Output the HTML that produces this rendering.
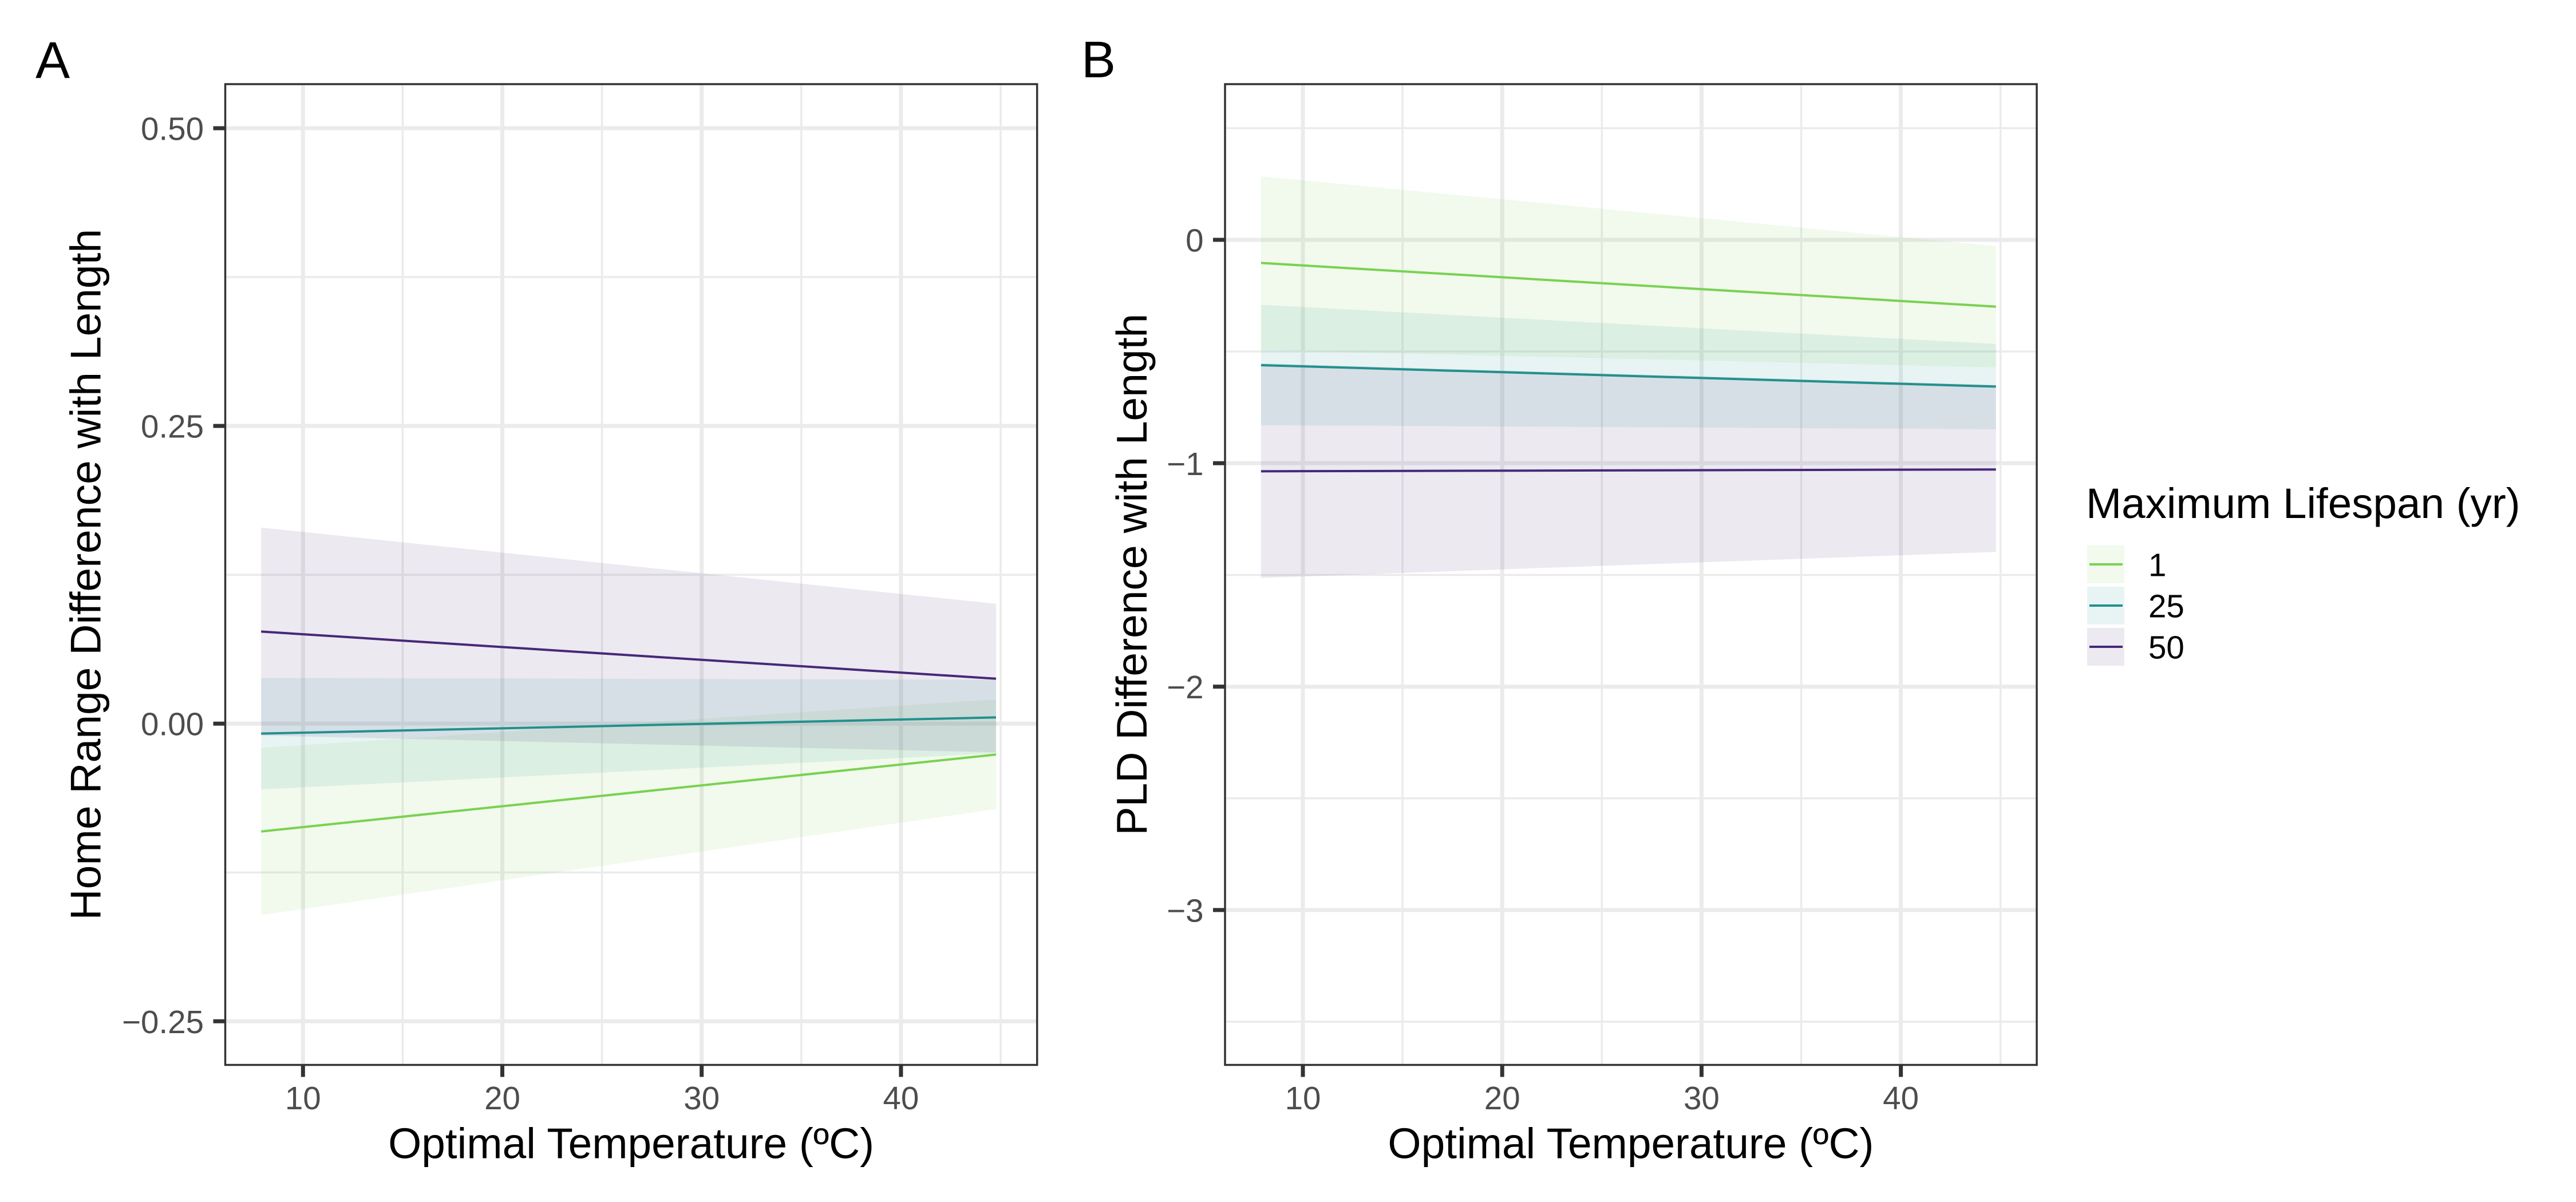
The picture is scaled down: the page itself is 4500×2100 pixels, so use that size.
<!DOCTYPE html>
<html lang="en">
<head>
<meta charset="utf-8">
<title>Home range and PLD difference with length</title>
<style>
html,body{margin:0;padding:0;background:#fff;}
svg{display:block;font-family:"Liberation Sans",Arial,sans-serif;}
</style>
</head>
<body>
<svg id="figure" xmlns="http://www.w3.org/2000/svg" width="4500" height="2100" viewBox="0 0 4500 2100">
  <rect x="0" y="0" width="4500" height="2100" fill="#ffffff"/>
  <text x="62" y="136" font-size="90" fill="#000">A</text>
  <text x="1889" y="135" font-size="90" fill="#000">B</text>
  <g id="panel-a"></g>
  <g id="panel-b"></g>
  <text x="1102.6" y="2023.5" font-size="74.8" text-anchor="middle" fill="#000">Optimal Temperature (ºC)</text>
  <text x="2848.9" y="2023.5" font-size="74.8" text-anchor="middle" fill="#000">Optimal Temperature (ºC)</text>
  <text transform="translate(175.4 1003.7) rotate(-90)" font-size="75" text-anchor="middle" fill="#000">Home Range Difference with Length</text>
  <text transform="translate(2003 1003.7) rotate(-90)" font-size="75" text-anchor="middle" fill="#000">PLD Difference with Length</text>
  <g id="legend">
    <text x="3644" y="905" font-size="74.6" fill="#000">Maximum Lifespan (yr)</text>
  </g>
</svg>
<script>
// Shared x values: the start and end of every fitted trend
const temperatureRange = [7.9, 44.77];
const xMajorTicks = [10, 20, 30, 40];
const xMinorTicks = [15, 25, 35, 45];
const lifespans = ['1', '25', '50'];

// Panel A: Home Range Difference with Length
const homeRangeTicks = [0.5, 0.25, 0, -0.25];
const homeRangeTickLabels = ['0.50', '0.25', '0.00', '\u22120.25'];
const homeRangeMinorTicks = [0.375, 0.125, -0.125];
const homeRangeFit1 = [-0.0906, -0.026];
const homeRangeLow1 = [-0.1608, -0.0717];
const homeRangeHigh1 = [-0.0204, 0.0204];
const homeRangeFit25 = [-0.0084, 0.0052];
const homeRangeLow25 = [-0.0552, -0.0249];
const homeRangeHigh25 = [0.0384, 0.0368];
const homeRangeFit50 = [0.0773, 0.0377];
const homeRangeLow50 = [-0.010, -0.0241];
const homeRangeHigh50 = [0.1646, 0.1006];

// Panel B: PLD Difference with Length
const pldTicks = [0, -1, -2, -3];
const pldTickLabels = ['0', '\u22121', '\u22122', '\u22123'];
const pldMinorTicks = [0.5, -0.5, -1.5, -2.5, -3.5];
const pldFit1 = [-0.1035, -0.299];
const pldLow1 = [-0.494, -0.571];
const pldHigh1 = [0.284, -0.028];
const pldFit25 = [-0.561, -0.657];
const pldLow25 = [-0.8294, -0.848];
const pldHigh25 = [-0.291, -0.466];
const pldFit50 = [-1.036, -1.028];
const pldLow50 = [-1.5135, -1.397];
const pldHigh50 = [-0.553, -0.649];

const SVG_NS = 'http://www.w3.org/2000/svg';
const seriesColors = ['#7AD151', '#21918C', '#472878'];

function mk(tag, attrs, parent, text) {
  const el = document.createElementNS(SVG_NS, tag);
  for (const k in attrs) el.setAttribute(k, attrs[k]);
  if (text !== undefined) el.textContent = text;
  parent.appendChild(el);
  return el;
}

function drawPanel(cfg) {
  const g = document.getElementById(cfg.id);
  const sx = v => cfg.x10 + (v - 10) * cfg.xUnit;
  const sy = v => cfg.y0 - v * cfg.yUnit;

  const bg = mk('rect', {x: cfg.left, y: cfg.top, width: cfg.right - cfg.left, height: cfg.bottom - cfg.top, fill: '#fff'}, g);
  
  

  cfg.yMinor.forEach(v => {
    const l = mk('line', {x1: cfg.left, x2: cfg.right, y1: sy(v), y2: sy(v), stroke: '#EBEBEB', 'stroke-width': 3.5}, g);
    
    
  });
  xMinorTicks.forEach(v => {
    const l = mk('line', {x1: sx(v), x2: sx(v), y1: cfg.top, y2: cfg.bottom, stroke: '#EBEBEB', 'stroke-width': 3.5}, g);
    
    
  });
  cfg.yTicks.forEach(v => {
    const l = mk('line', {x1: cfg.left, x2: cfg.right, y1: sy(v), y2: sy(v), stroke: '#EBEBEB', 'stroke-width': 7}, g);
    
    
  });
  xMajorTicks.forEach(v => {
    const l = mk('line', {x1: sx(v), x2: sx(v), y1: cfg.top, y2: cfg.bottom, stroke: '#EBEBEB', 'stroke-width': 7}, g);
    
    
  });

  cfg.series.forEach((s, i) => {
    const x0 = sx(temperatureRange[0]);
    const x1 = sx(temperatureRange[1]);
    const pts = [[x0, sy(s.high[0])], [x1, sy(s.high[1])], [x1, sy(s.low[1])], [x0, sy(s.low[0])]];
    const band = mk('polygon', {points: pts.map(p => p.join(',')).join(' '), fill: seriesColors[i], 'fill-opacity': 0.1}, g);
    
    
  });
  cfg.series.forEach((s, i) => {
    const line = mk('line', {x1: sx(temperatureRange[0]), y1: sy(s.fit[0]), x2: sx(temperatureRange[1]), y2: sy(s.fit[1]), stroke: seriesColors[i], 'stroke-width': 4}, g);
    
    
  });

  const border = mk('rect', {x: cfg.left, y: cfg.top, width: cfg.right - cfg.left, height: cfg.bottom - cfg.top, fill: 'none', stroke: '#333333', 'stroke-width': 3.5}, g);
  
  

  cfg.yTicks.forEach((v, i) => {
    const t = mk('line', {x1: cfg.left - 21, x2: cfg.left, y1: sy(v), y2: sy(v), stroke: '#333333', 'stroke-width': 7}, g);
    
    
    const lab = mk('text', {x: cfg.left - 37.5, y: sy(v) + 20.5, 'font-size': 56.5, 'text-anchor': 'end', fill: '#4D4D4D'}, g, cfg.yLabels[i]);
    
    
  });
  xMajorTicks.forEach(v => {
    const t = mk('line', {x1: sx(v), x2: sx(v), y1: cfg.bottom, y2: cfg.bottom + 21, stroke: '#333333', 'stroke-width': 7}, g);
    
    
    const lab = mk('text', {x: sx(v), y: 1938, 'font-size': 56.5, 'text-anchor': 'middle', fill: '#4D4D4D'}, g, String(v));
    
    
  });
}

drawPanel({
  id: 'panel-a', prefix: 'panel-a',
  left: 393.5, right: 1811.7, top: 147, bottom: 1860.5,
  x10: 529.3, xUnit: 34.82, y0: 1264.2, yUnit: 2080.4,
  yTicks: homeRangeTicks, yLabels: homeRangeTickLabels, yMinor: homeRangeMinorTicks,
  series: [
    {fit: homeRangeFit1, low: homeRangeLow1, high: homeRangeHigh1},
    {fit: homeRangeFit25, low: homeRangeLow25, high: homeRangeHigh25},
    {fit: homeRangeFit50, low: homeRangeLow50, high: homeRangeHigh50}
  ]
});

drawPanel({
  id: 'panel-b', prefix: 'panel-b',
  left: 2140, right: 3558, top: 147, bottom: 1860.5,
  x10: 2276, xUnit: 34.82, y0: 419, yUnit: 390.3,
  yTicks: pldTicks, yLabels: pldTickLabels, yMinor: pldMinorTicks,
  series: [
    {fit: pldFit1, low: pldLow1, high: pldHigh1},
    {fit: pldFit25, low: pldLow25, high: pldHigh25},
    {fit: pldFit50, low: pldLow50, high: pldHigh50}
  ]
});

const legend = document.getElementById('legend');
lifespans.forEach((name, i) => {
  const top = 953 + i * 72;
  const key = mk('rect', {x: 3646, y: top, width: 65, height: 66, fill: seriesColors[i], 'fill-opacity': 0.1}, legend);
  
  
  const stroke = mk('line', {x1: 3650, x2: 3708, y1: top + 33, y2: top + 33, stroke: seriesColors[i], 'stroke-width': 4}, legend);
  
  
  const label = mk('text', {x: 3753, y: top + 53.5, 'font-size': 56.5, fill: '#000'}, legend, name);
  
  
});
</script>
</body>
</html>
